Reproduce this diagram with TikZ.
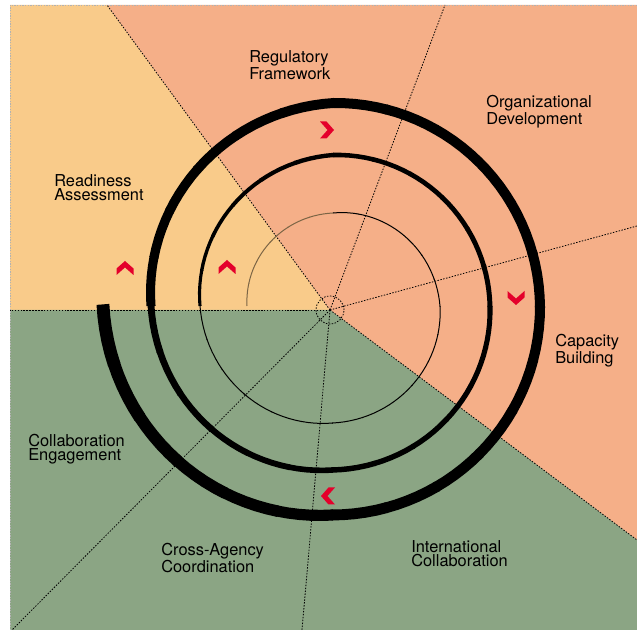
\documentclass[tikz,border=0pt]{standalone}
\usepackage{fontspec}
\setmainfont{TeX Gyre Heros}
\definecolor{readyyellow}{HTML}{F9CB8A}
\definecolor{devsalmon}{HTML}{F5AF88}
\definecolor{collabgreen}{HTML}{8BA584}
\definecolor{chevred}{HTML}{E4002B}
\tikzset{
  spoke/.style={line width=0.6pt, dash pattern=on 1.1pt off 1.1pt},
  stagetext/.style={anchor=north west, inner sep=0pt, align=left,
    font=\fontsize{12.3pt}{10.8pt}\selectfont},
  chev/.pic={\fill[chevred] (-7,-8.5) -- (-0.5,-8.5) -- (7,0) -- (-0.5,8.5) -- (-7,8.5) -- (0.5,0) -- cycle;}
}
\begin{document}
\begin{tikzpicture}[x=0.75pt, y=-0.75pt]
\useasboundingbox (0,0) rectangle (637,630);
\coordinate (ctr) at (330,310);

\fill[readyyellow] (10,5) -- (107,5) -- (ctr) -- (10,310) -- cycle;
\fill[devsalmon] (107,5) -- (637,5) -- (637,540) -- (ctr) -- cycle;
\fill[collabgreen] (10,310) -- (ctr) -- (637,540) -- (637,630) -- (10,630) -- cycle;
\draw[gray!60, line width=0.6pt, dash pattern=on 1pt off 1pt] (10,630) -- (10,5) -- (637,5);

\foreach \tx/\ty in {10/310, 107/5, 445/5, 637/226, 637/540, 302/630, 12/630}
{
  \draw[spoke] (ctr) -- (\tx,\ty);
}
\draw[spoke] (ctr) circle[radius=10.5pt];

% spiral, quarter turns cut into short pieces so the stroke can thicken
\foreach \ta/\ra/\rb/\wa/\wb/\col in
  {180/86/93/1/1/readyyellow!50!black, 270/93/107/1/1/black, 360/107/117/1/1/black, 450/117/133/1/1/black,
   540/133/151/3/4.5/black, 630/151/157/4.5/5/black, 720/157/164/5/5.5/black, 810/164/182/5.5/7/black,
   900/182/203/9/10/black, 990/203/207/10/10/black, 1080/207/209/10/11/black, 1170/209/230/11/13/black}
{
  \foreach \k in {0,...,5}
  {
    \pgfmathsetmacro{\sa}{\ta+15*\k}
    \pgfmathsetmacro{\sb}{\sa+15.4}
    \pgfmathsetmacro{\wk}{\wa+(\wb-\wa)*(\k+0.5)/6}
    \draw[\col, line width=\wk*0.75pt] plot[domain=\sa:\sb, samples=6, variable=\ang]
      ({333+(\ra+(\rb-\ra)*(\ang-\ta)/90)*cos(\ang)}, {306+(\ra+(\rb-\ra)*(\ang-\ta)/90)*sin(\ang)});
  }
}

\pic at (327,130) {chev};
\pic[rotate=-90] at (516,298) {chev};
\pic[rotate=180] at (328,496) {chev};
\pic[rotate=90] at (125,268) {chev};
\pic[rotate=90] at (227,267) {chev};

\node[stagetext] (regulatory) at (249,50) {Regulatory\\Framework};
\node[stagetext] (organizational) at (486,95) {Organizational\\Development};
\node[stagetext] (readiness) at (54,174) {Readiness\\Assessment};
\node[stagetext] (capacity) at (555,334) {Capacity\\Building};
\node[stagetext] (engagement) at (28,434) {Collaboration\\Engagement};
\node[stagetext] (crossagency) at (161,543) {Cross-Agency\\Coordination};
\node[stagetext] (international) at (411,540) {International\\Collaboration};
\end{tikzpicture}
\end{document}
